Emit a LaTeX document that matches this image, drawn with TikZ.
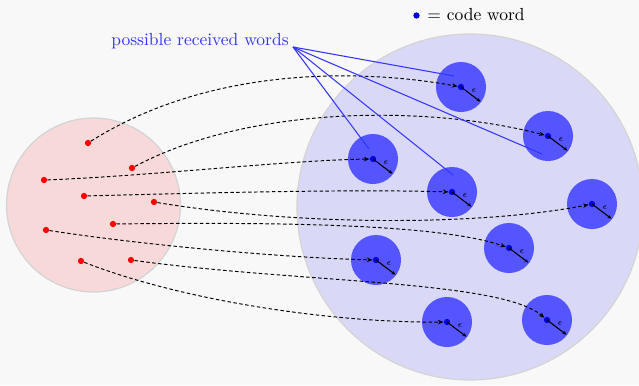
\documentclass[tikz,border=0pt]{standalone}
\usetikzlibrary{arrows.meta}
\definecolor{bgcol}{HTML}{F8F8F8}
\definecolor{ballfill}{HTML}{D9D9F7}
\definecolor{srcfill}{HTML}{F8D9D9}
\definecolor{rimgray}{HTML}{D4D4D4}
\definecolor{nbhd}{HTML}{5555FF}
\definecolor{cwdot}{HTML}{0000DD}
\definecolor{lblblue}{HTML}{3333FF}
\begin{document}
\begin{tikzpicture}[x=0.5714pt,y=-0.5714pt,
  region/.style={circle,draw=rimgray,line width=0.7pt,inner sep=0pt},
  ball/.style={circle,fill=nbhd,inner sep=0pt,minimum size=28.6pt},
  cword/.style={circle,fill=cwdot,inner sep=0pt,minimum size=3.6pt},
  rword/.style={circle,fill=red,inner sep=0pt,minimum size=3.6pt},
  dashconn/.style={draw=black,line width=0.55pt,dash pattern=on 2pt off 1.4pt,-{Stealth[length=3.2pt,width=2.6pt]}},
  radline/.style={draw=black,line width=0.6pt,-{Stealth[length=2.4pt,width=2pt]}},
  eps/.style={font=\tiny,inner sep=0pt},
  pointer/.style={draw=lblblue,line width=0.6pt}]
% canvas
\fill[bgcol] (0,0) rectangle (639,385);
\useasboundingbox (0,0) rectangle (639,385);
\begin{scope}
\clip (0,0) rectangle (639,385);
% the space of all words and the set of sent words
\node[region,fill=ballfill,minimum size=197.7pt] (space) at (470,207) {};
\node[region,fill=srcfill,minimum size=99.4pt] (source) at (93.5,205) {};
\end{scope}
% code words with their epsilon neighbourhoods
\foreach \n/\x/\y in {1/461/87,2/548/136,3/373/159,4/452/192,5/592/204,6/509/248,7/376/260,8/447/322,9/547/320}{
  \node[ball] (b\n) at (\x,\y) {};
  \node[cword] (c\n) at (\x,\y) {};
  \draw[radline] (c\n.center) -- ++(37:24.5);
  \node[eps] (e\n) at (\x+13,\y+4) {$\epsilon$};
}
% sent words
\node[rword] (r1) at (88,143) {};
\node[rword] (r2) at (132,168) {};
\node[rword] (r3) at (44,180) {};
\node[rword] (r4) at (84,196) {};
\node[rword] (r5) at (154,202) {};
\node[rword] (r6) at (113,224) {};
\node[rword] (r7) at (46,230) {};
\node[rword] (r8) at (131,260) {};
\node[rword] (r9) at (81,261) {};
% encoding map
\draw[dashconn] (r1) .. controls (220,60) and (380,72) .. (c1);
\draw[dashconn] (r2) .. controls (250,105) and (430,105) .. (c2);
\draw[dashconn] (r3) .. controls (150,176) and (290,160) .. (c3);
\draw[dashconn] (r4) .. controls (200,193) and (350,189) .. (c4);
\draw[dashconn] (r5) .. controls (300,226) and (480,226) .. (c5);
\draw[dashconn] (r6) .. controls (280,222) and (440,224) .. (c6);
\draw[dashconn] (r7) .. controls (150,246) and (290,258) .. (c7);
\draw[dashconn] (r8) .. controls (300,283) and (500,280) .. (c9);
\draw[dashconn] (r9) .. controls (180,300) and (330,323) .. (c8);
% received words
\node[text=lblblue,anchor=east,inner sep=0pt] (rcv) at (289,41) {possible received words};
\coordinate (fan) at (293,47);
\coordinate (w1) at (454,76);
\coordinate (w2) at (542,154);
\coordinate (w3) at (369,149);
\coordinate (w4) at (453,175);
\foreach \w in {w1,w2,w3,w4} \draw[pointer] (fan) -- (\w);
% legend
\node[cword] (key) at (416.5,15.5) {};
\node[anchor=west,inner sep=0pt] (keytext) at (427,15) {$=$ code word};
\end{tikzpicture}
\end{document}
